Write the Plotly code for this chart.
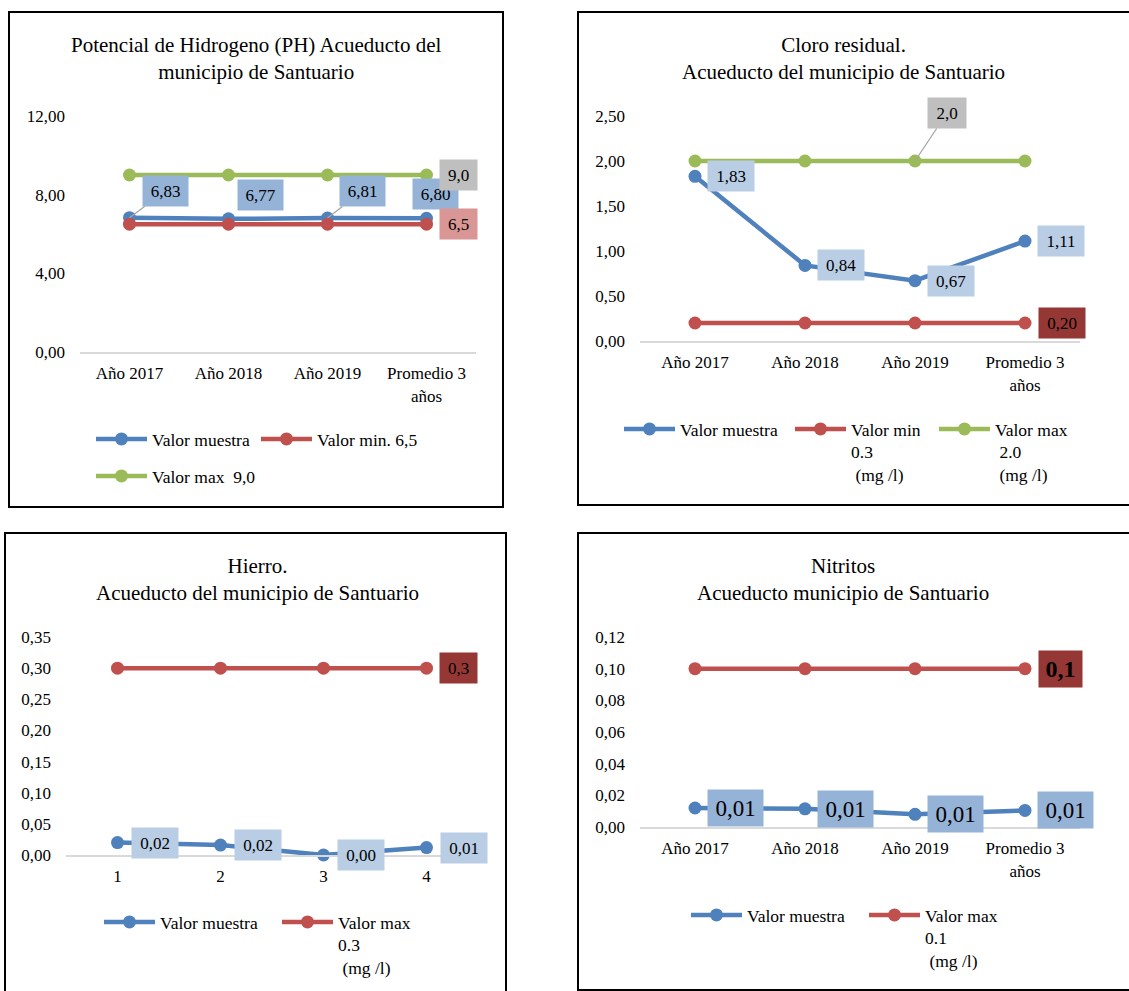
import plotly.graph_objects as go

W, H = 1129, 991

# ---------------- data ----------------
cats_years = ["Año 2017", "Año 2018", "Año 2019", "Promedio 3<br>años"]
cats_iron = ["1", "2", "3", "4"]

ph_muestra = [6.83, 6.77, 6.81, 6.80]
ph_min = [6.5, 6.5, 6.5, 6.5]
ph_max = [9.0, 9.0, 9.0, 9.0]

cloro_muestra = [1.83, 0.84, 0.67, 1.11]
cloro_min = [0.20, 0.20, 0.20, 0.20]
cloro_max = [2.0, 2.0, 2.0, 2.0]

hierro_muestra = [0.020, 0.016, 0.000, 0.012]
hierro_max = [0.3, 0.3, 0.3, 0.3]

nitritos_muestra = [0.012, 0.0115, 0.008, 0.0105]
nitritos_max = [0.1, 0.1, 0.1, 0.1]

titles = [
    "Potencial de Hidrogeno (PH) Acueducto del<br>municipio de Santuario",
    "Cloro residual.<br>Acueducto del municipio de Santuario",
    "Hierro.<br>Acueducto del municipio de Santuario",
    "Nitritos<br>Acueducto municipio de Santuario",
]

NB = "\u00a0"
FONT = "Liberation Serif, Times New Roman, serif"
BLUE, RED, GREEN = "#4F81BD", "#C0504D", "#9BBB59"

fig = go.Figure()


def px(x):
    return x / W


def py(y):
    return 1 - y / H


def fmt(v, d):
    return f"{v:.{d}f}".replace(".", ",")


# panel geometry (pixels): plot area left, right, top, bottom
panels = [
    dict(l=80, r=476, t=116, b=352, rng=[0, 12], dtick=4, cats=cats_years),
    dict(l=640, r=1080, t=116, b=341, rng=[0, 2.5], dtick=0.5, cats=cats_years),
    dict(l=66, r=478, t=637, b=855, rng=[0, 0.35], dtick=0.05, cats=cats_iron),
    dict(l=640, r=1080, t=637, b=827, rng=[0, 0.12], dtick=0.02, cats=cats_years),
]

layout_axes = {}
for i, p in enumerate(panels, start=1):
    xa = "xaxis" if i == 1 else f"xaxis{i}"
    ya = "yaxis" if i == 1 else f"yaxis{i}"
    layout_axes[xa] = dict(
        domain=[px(p["l"]), px(p["r"])], range=[-0.5, 3.5],
        tickvals=[0, 1, 2, 3], ticktext=p["cats"], anchor=f"y{i}" if i > 1 else "y",
        showgrid=False, zeroline=False, showline=True, linecolor="#D9D9D9",
        linewidth=2, ticks="", tickfont=dict(family=FONT, size=17, color="black"),
        ticklabelstandoff=5, fixedrange=True, automargin=False,
    )
    layout_axes[ya] = dict(
        domain=[py(p["b"]), py(p["t"])], range=p["rng"], dtick=p["dtick"],
        tick0=0, tickformat=".2f", anchor=f"x{i}" if i > 1 else "x",
        showgrid=False, zeroline=False, showline=False, ticks="",
        tickfont=dict(family=FONT, size=17, color="black"),
        ticklabelstandoff=14, fixedrange=True, automargin=False,
    )

xs = [0, 1, 2, 3]

legend_pos = {}


def add_series(i, y, name, color, leg, lx, ly):
    xr = "x" if i == 1 else f"x{i}"
    yr = "y" if i == 1 else f"y{i}"
    fig.add_trace(go.Scatter(
        x=xs, y=y, name=name, mode="lines+markers", xaxis=xr, yaxis=yr,
        line=dict(color=color, width=4.5), marker=dict(color=color, size=13),
        cliponaxis=False, legend=leg, showlegend=True, hoverinfo="skip",
    ))
    legend_pos[leg] = (lx, ly)


# Panel 1
add_series(1, ph_muestra, "Valor muestra", BLUE, "legend", 91, 440)
add_series(1, ph_min, "Valor min. 6,5", RED, "legend2", 256, 440)
add_series(1, ph_max, "Valor max " + NB + "9,0", GREEN, "legend3", 91, 477)
# Panel 2
add_series(2, cloro_muestra, "Valor muestra", BLUE, "legend4", 619, 430)
add_series(2, cloro_min, "Valor min<br>0.3<br>" + NB + "(mg /l)", RED, "legend5", 790, 430)
add_series(2, cloro_max, "Valor max<br>" + NB + "2.0<br>" + NB + "(mg /l)", GREEN, "legend6", 934, 430)
# Panel 3
add_series(3, hierro_muestra, "Valor muestra", BLUE, "legend7", 99, 923)
add_series(3, hierro_max, "Valor max<br>0.3<br>" + NB + "(mg /l)", RED, "legend8", 277, 923)
# Panel 4
add_series(4, nitritos_muestra, "Valor muestra", BLUE, "legend9", 686, 916)
add_series(4, nitritos_max, "Valor max<br>0.1<br>" + NB + "(mg /l)", RED, "legend10", 864, 916)

LEG_DY = 19
legends = {}
for leg, (lx, ly) in legend_pos.items():
    legends[leg] = dict(
        x=px(lx), y=py(ly - LEG_DY), xanchor="left", yanchor="top",
        orientation="h", itemwidth=51, valign="top", bgcolor="rgba(0,0,0,0)",
        borderwidth=0, font=dict(family=FONT, size=17.5, color="black"),
        itemclick=False, itemdoubleclick=False,
    )

annotations = []

title_pos = [(256, 58), (843, 58), (257, 579), (843, 579)]
for t, (tx, ty) in zip(titles, title_pos):
    annotations.append(dict(
        text=t, x=px(tx), y=py(ty), xref="paper", yref="paper",
        xanchor="center", yanchor="middle", showarrow=False, align="center",
        font=dict(family=FONT, size=21, color="black"),
    ))


def label(i, xi, v, d, bg, w, h, dx, dy, size=17, bold=False, leader=False):
    xr = "x" if i == 1 else f"x{i}"
    yr = "y" if i == 1 else f"y{i}"
    txt = fmt(v, d)
    if bold:
        txt = "<b>" + txt + "</b>"
    a = dict(
        x=xi, y=v, xref=xr, yref=yr, text=txt, bgcolor=bg, width=w, height=h,
        borderpad=0, font=dict(family=FONT, size=size, color="black"),
        align="center", valign="middle",
    )
    if leader:
        a.update(showarrow=True, ax=dx, ay=dy, arrowhead=0, arrowwidth=1.3,
                 arrowcolor="#A6A6A6")
    else:
        a.update(showarrow=False, xshift=dx, yshift=-dy)
    annotations.append(a)


L1 = "#95B3D7"
label(1, 0, ph_muestra[0], 2, L1, 45, 30, 36, -27, leader=True)
label(1, 1, ph_muestra[1], 2, L1, 45, 30, 32, -24)
label(1, 2, ph_muestra[2], 2, L1, 45, 30, 35, -27, leader=True)
label(1, 3, ph_muestra[3], 2, L1, 45, 30, 9, -24)
label(1, 3, ph_min[3], 1, "#D99694", 37, 30, 32, 0)
label(1, 3, ph_max[3], 1, "#BFBFBF", 37, 30, 32, 0)

L2 = "#B9CDE5"
for k in range(4):
    label(2, k, cloro_muestra[k], 2, L2, 46, 30, 36, 0)
label(2, 3, cloro_min[3], 2, "#953735", 46, 30, 37, 0)
label(2, 2, cloro_max[2], 1, "#BFBFBF", 38, 30, 32, -48, leader=True)

for k in range(4):
    label(3, k, hierro_muestra[k], 2, L2, 46, 30, 37, 0)
label(3, 3, hierro_max[3], 1, "#953735", 37, 30, 32, 0)

for k in range(4):
    label(4, k, nitritos_muestra[k], 2, L1, 55, 36, 40, 0, size=23)
label(4, 3, nitritos_max[3], 1, "#953735", 43, 36, 35, 0, size=24, bold=True)

borders = [(9, 503, 12, 507), (578, 1135, 12, 505), (5, 506, 533, 1000), (578, 1135, 533, 990)]
shapes = [
    dict(type="rect", xref="paper", yref="paper", x0=px(a), x1=px(b), y0=py(c), y1=py(d),
         line=dict(color="black", width=2), fillcolor="rgba(0,0,0,0)", layer="below")
    for a, b, c, d in borders
]

fig.update_layout(
    width=W, height=H, margin=dict(l=0, r=0, t=0, b=0, pad=0, autoexpand=False),
    paper_bgcolor="white", plot_bgcolor="white",
    font=dict(family=FONT, size=17, color="black"),
    separators=",.", annotations=annotations, shapes=shapes,
    hovermode=False, **layout_axes, **legends,
)

fig.write_html(
    "out.html",
    config={"displayModeBar": False},
    post_script=(
        "document.documentElement.style.margin='0';"
        "document.documentElement.style.overflow='hidden';"
        "document.body.style.margin='0';"
        "document.body.style.overflow='hidden';"
        "var d=document.getElementById('{plot_id}');"
        "d.style.position='absolute';d.style.left='0px';d.style.top='0px';"
    ),
)
